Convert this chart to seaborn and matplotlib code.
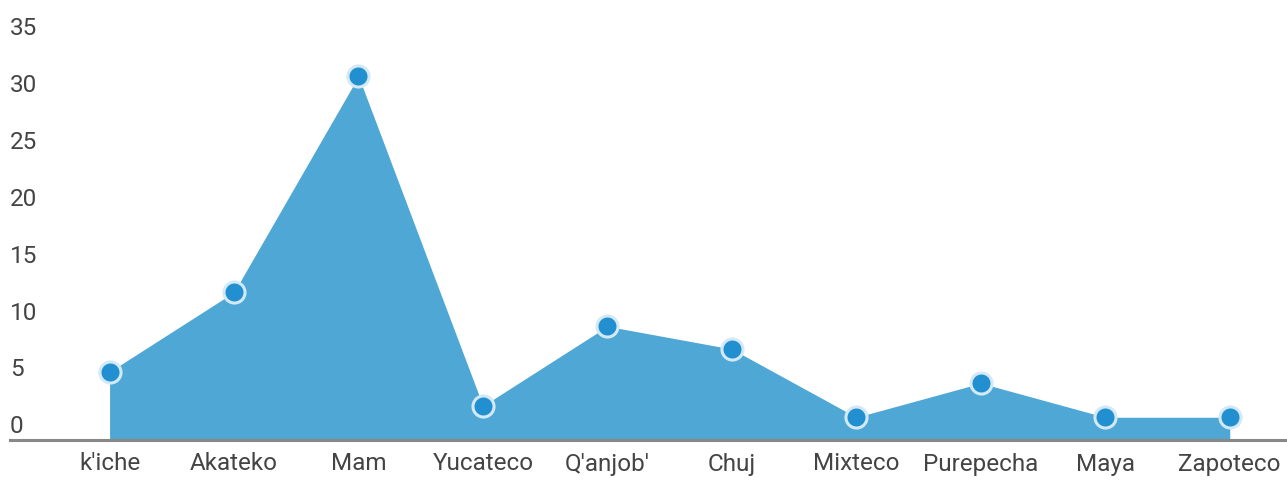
import pandas as pd
import numpy as np
import matplotlib.pyplot as plt
import matplotlib.transforms as mtransforms
import seaborn as sns

# Values
languages = ["k'iche", "Akateko", "Mam", "Yucateco", "Q'anjob'",
             "Chuj", "Mixteco", "Purepecha", "Maya", "Zapoteco"]
counts = [6, 13, 32, 3, 10, 8, 2, 5, 2, 2]
y_ticks = [0, 5, 10, 15, 20, 25, 30, 35]

df = pd.DataFrame({"language": languages, "count": counts})
df["pos"] = np.arange(len(df))

sns.set_style("white")
plt.rcParams['font.family'] = ['Roboto', 'DejaVu Sans']

fig = plt.figure(figsize=(12.87, 4.83), dpi=100)
ax = fig.add_axes([10 / 1287, 43 / 483, 1 - 10 / 1287, 440 / 483])

fill_color = '#4fa7d6'
ax.fill_between(df["pos"], df["count"], 0, color=fill_color, linewidth=0, zorder=2)

sns.scatterplot(data=df, x="pos", y="count", ax=ax, s=230, color='#2290d0',
                edgecolor='#d3e9f5', linewidth=2.2, zorder=3, legend=False)

ax.set_xlim(-0.80, 9.46)
ax.set_ylim(0, 38.7)

# y labels sit inside the plot, just above each (invisible) grid level
ax.set_yticks([])
trans = mtransforms.blended_transform_factory(ax.transAxes, ax.transData)
for v in y_ticks:
    ax.text(0.0, v + 0.15, str(v), transform=trans, ha='left', va='bottom',
            fontsize=17.5, color='#444444')

ax.set_xticks(df["pos"])
ax.set_xticklabels(df["language"], fontsize=17.5, color='#444444')
ax.tick_params(axis='x', length=0, pad=9)
ax.set_xlabel('')
ax.set_ylabel('')

for side in ['top', 'right', 'left']:
    ax.spines[side].set_visible(False)
ax.spines['bottom'].set_color('#888888')
ax.spines['bottom'].set_linewidth(2.2)
ax.spines['bottom'].set_zorder(4)

fig.savefig('out.png', dpi=100)
plt.close(fig)
